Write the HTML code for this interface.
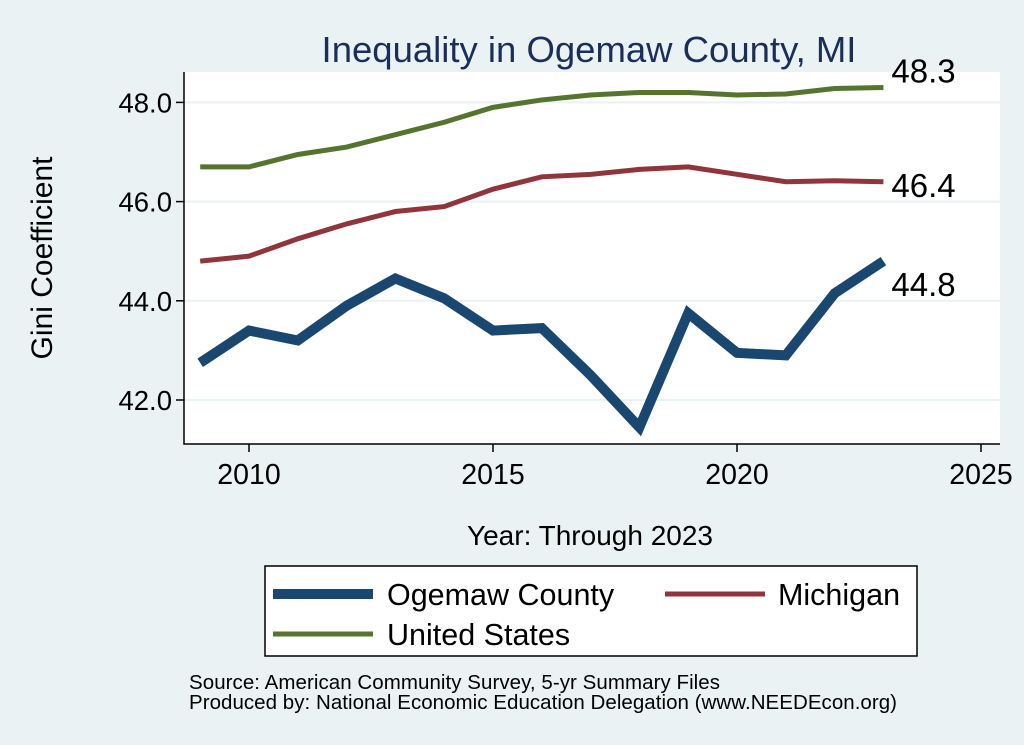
<!DOCTYPE html>
<html><head><meta charset="utf-8"><style>
body{margin:0;background:#eaf2f3;}
svg{display:block;font-family:"Liberation Sans",sans-serif;}
</style></head><body>
<svg width="1024" height="745">
<rect width="1024" height="745" fill="#eaf2f3"/>
<text x="589" y="62" text-anchor="middle" font-size="36.5" fill="#1a2e5a">Inequality in Ogemaw County, MI</text>
<rect x="184" y="72" width="816" height="372" fill="#fff"/>
<g id="grid"></g><g id="axes"></g><g id="series"></g><g id="labels"></g>
<text x="52" y="258" transform="rotate(-90 52 258)" text-anchor="middle" font-size="30" fill="#000">Gini Coefficient</text>
<text x="590" y="545" text-anchor="middle" font-size="28" fill="#000">Year: Through 2023</text>
<g>
<rect x="265" y="566" width="652" height="90" fill="#fff" stroke="#000" stroke-width="1.5"/>
<line x1="273" y1="594" x2="373" y2="594" stroke="#1a476f" stroke-width="10"/>
<text x="387" y="605" font-size="30.5">Ogemaw County</text>
<line x1="665" y1="594" x2="765" y2="594" stroke="#90353b" stroke-width="5"/>
<text x="778" y="605" font-size="30.5">Michigan</text>
<line x1="273" y1="634" x2="373" y2="634" stroke="#55752f" stroke-width="5"/>
<text x="387" y="645" font-size="30.5">United States</text>
</g>
<text x="189" y="689" font-size="20.5" textLength="531">Source: American Community Survey, 5-yr Summary Files</text>
<text x="189" y="709" font-size="20.5" textLength="708">Produced by: National Economic Education Delegation (www.NEEDEcon.org)</text>
</svg>
<script>
const years=[2009,2010,2011,2012,2013,2014,2015,2016,2017,2018,2019,2020,2021,2022,2023];
const ogemaw=[42.75,43.4,43.2,43.9,44.45,44.05,43.4,43.45,42.5,41.45,43.75,42.95,42.9,44.15,44.8];
const michigan=[44.8,44.9,45.25,45.55,45.8,45.9,46.25,46.5,46.55,46.65,46.7,46.55,46.4,46.42,46.4];
const usa=[46.7,46.7,46.95,47.1,47.35,47.6,47.9,48.05,48.15,48.2,48.2,48.15,48.17,48.28,48.3];
const yTicks=[42,44,46,48];
const yTickLabels=["42.0","44.0","46.0","48.0"];
const xTicks=[2010,2015,2020,2025];
const NS="http://www.w3.org/2000/svg";
const X=v=>249+(v-2010)*48.8;
const Y=v=>400-(v-42)*49.6;
function mk(tag,attrs,parent,txt){const e=document.createElementNS(NS,tag);for(const k in attrs)e.setAttribute(k,attrs[k]);if(txt!==undefined)e.textContent=txt;document.getElementById(parent).appendChild(e);return e;}
yTicks.forEach((t,i)=>{
 let g=mk('line',{x1:184,x2:1000,y1:Y(t),y2:Y(t),stroke:'#eaf2f3','stroke-width':2},'grid');
 
 
 let tk=mk('line',{x1:176,x2:184,y1:Y(t),y2:Y(t),stroke:'#000','stroke-width':1.5},'axes');
 
 
 let l=mk('text',{x:172,y:Y(t)+10,'text-anchor':'end','font-size':27.5},'axes',yTickLabels[i]);
 
 
});
xTicks.forEach(t=>{
 let tk=mk('line',{x1:X(t),x2:X(t),y1:444,y2:452,stroke:'#000','stroke-width':1.5},'axes');
 
 
 let l=mk('text',{x:X(t),y:484,'text-anchor':'middle','font-size':28.5},'axes',String(t));
 
 
});
let ax=mk('path',{d:'M184 72 V444 H1000',fill:'none',stroke:'#000','stroke-width':1.5},'axes');


function series(vals,color,w,name){
 let p=mk('polyline',{points:vals.map((v,i)=>X(years[i])+','+Y(v)).join(' '),fill:'none',stroke:color,'stroke-width':w,'stroke-linejoin':'miter'},'series');
 
 
}
series(usa,'#55752f',5,'line-united-states');
series(michigan,'#90353b',5,'line-michigan');
series(ogemaw,'#1a476f',10,'line-ogemaw');
function endLabel(vals,dy,name){
 const v=vals[vals.length-1];
 let t=mk('text',{x:X(years[years.length-1])+8,y:Y(v)+dy,'font-size':33},'labels',v.toFixed(1));
 
 
}
endLabel(usa,-5,'label-us-end');
endLabel(michigan,15,'label-michigan-end');
endLabel(ogemaw,35,'label-ogemaw-end');
</script>
</body></html>
